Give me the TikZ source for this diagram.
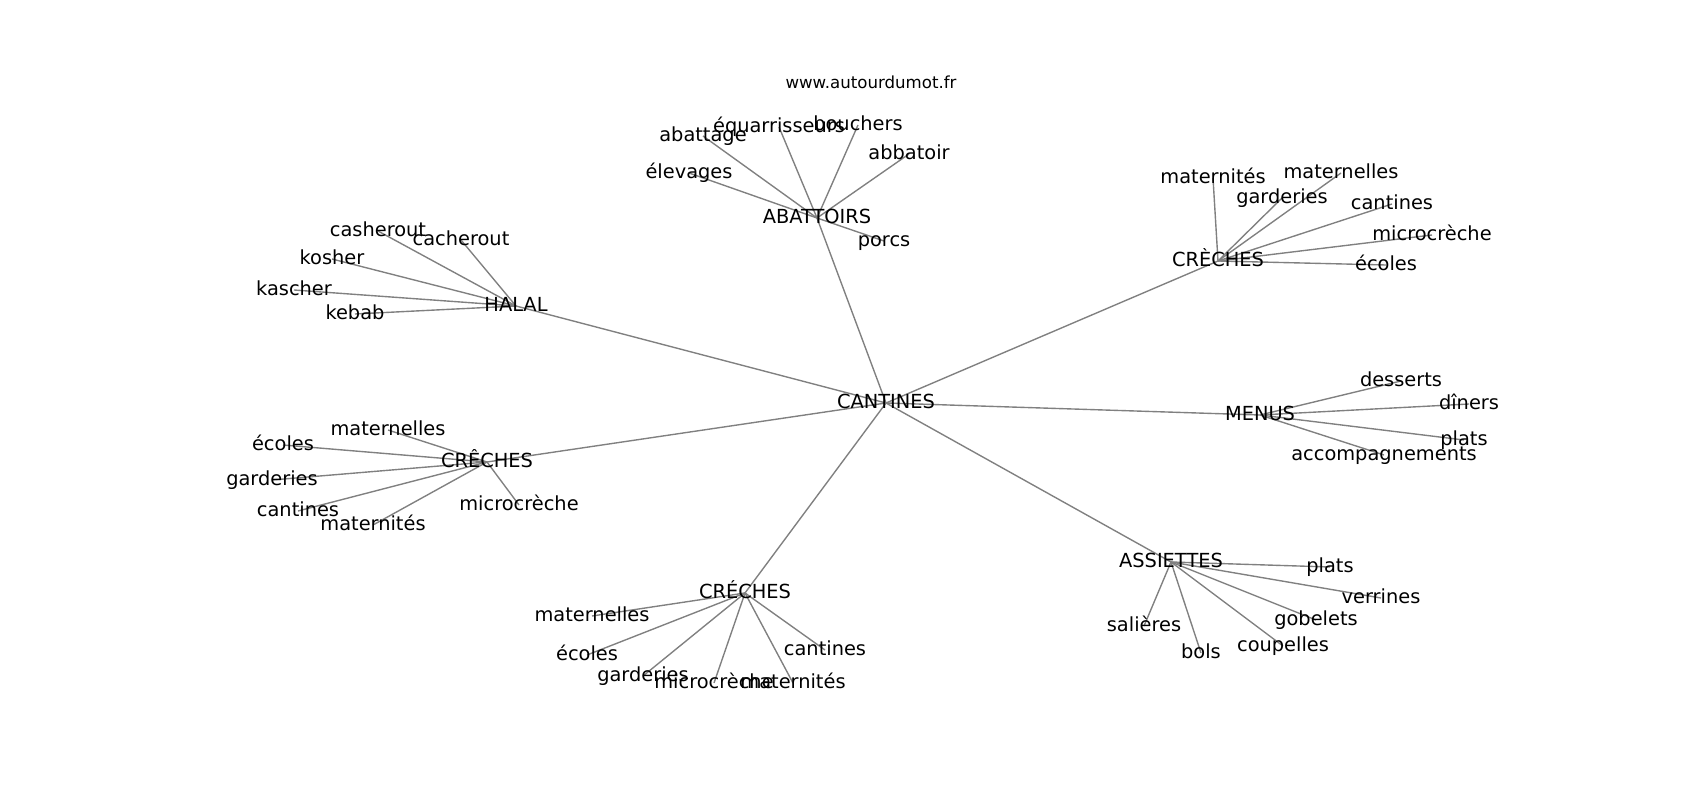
\documentclass[tikz,border=0pt]{standalone}
\usepackage{fontspec}
\setmainfont{DejaVu Sans}
\usetikzlibrary{backgrounds}

\begin{document}
\begin{tikzpicture}[x=0.01in, y=-0.01in,
  every node/.style = {inner sep=0pt, outer sep=0pt,
    text height=0.86em, text depth=0pt,
    font=\fontsize{14}{16}\selectfont},
  link/.style = {draw=black!50, line width=1pt}
  ]
  \useasboundingbox (0,0) rectangle (1700,800);
  \node[anchor=base, text height=, text depth=, font=\fontsize{12}{14}\selectfont] (site) at (871,88.3) {www.autourdumot.fr};
  % centre
  \node (cantines) at (886,403) {CANTINES};
  % abattoirs
  \node (abattoirs) at (817,218) {ABATTOIRS};
  \node (elevages) at (689,173) {élevages};
  \node (abattage) at (703,136) {abattage};
  \node (equarr) at (779,127) {équarrisseurs};
  \node (bouchers) at (858,125) {bouchers};
  \node (abbatoir) at (909,154) {abbatoir};
  \node (porcs) at (884,241) {porcs};
  % halal
  \node (halal) at (516,306) {HALAL};
  \node (casherout) at (378,231) {casherout};
  \node (cacherout) at (461,240) {cacherout};
  \node (kosher) at (332,259) {kosher};
  \node (kascher) at (294,290) {kascher};
  \node (kebab) at (355,314) {kebab};
  % creches, en haut
  \node (crechesA) at (1218,261) {CRÈCHES};
  \node (matA) at (1213,178) {maternités};
  \node (mlA) at (1341,173) {maternelles};
  \node (garA) at (1282,198) {garderies};
  \node (canA) at (1392,204) {cantines};
  \node (micA) at (1432,235) {microcrèche};
  \node (ecoA) at (1386,265) {écoles};
  % menus
  \node (menus) at (1260,415) {MENUS};
  \node (desserts) at (1401,381) {desserts};
  \node (diners) at (1469,404) {dîners};
  \node (platsM) at (1464,440) {plats};
  \node (accomp) at (1384,455) {accompagnements};
  % creches, a gauche
  \node (crechesB) at (487,462) {CRÊCHES};
  \node (mlB) at (388,430) {maternelles};
  \node (ecoB) at (283,445) {écoles};
  \node (garB) at (272,480) {garderies};
  \node (micB) at (519,505) {microcrèche};
  \node (canB) at (298,511) {cantines};
  \node (matB) at (373,525) {maternités};
  % creches, en bas
  \node (crechesC) at (745,593) {CRÉCHES};
  \node (mlC) at (592,616) {maternelles};
  \node (ecoC) at (587,655) {écoles};
  \node (canC) at (825,650) {cantines};
  \node (garC) at (643,676) {garderies};
  \node (micC) at (714,683) {microcrèche};
  \node (matC) at (793,683) {maternités};
  % assiettes
  \node (assiettes) at (1171,562) {ASSIETTES};
  \node (platsA) at (1330,567) {plats};
  \node (verrines) at (1381,598) {verrines};
  \node (gobelets) at (1316,620) {gobelets};
  \node (salieres) at (1144,626) {salières};
  \node (coupelles) at (1283,646) {coupelles};
  \node (bols) at (1201,653) {bols};

  \begin{scope}[on background layer]
    \foreach \hub in {halal,abattoirs,crechesA,menus,assiettes,crechesC,crechesB}
      \draw[link] (cantines.center) -- (\hub.center);
    \foreach \leaf in {elevages,abattage,equarr,bouchers,abbatoir,porcs}
      \draw[link] (abattoirs.center) -- (\leaf.center);
    \foreach \leaf in {casherout,cacherout,kosher,kascher,kebab}
      \draw[link] (halal.center) -- (\leaf.center);
    \foreach \leaf in {matA,mlA,garA,canA,micA,ecoA}
      \draw[link] (crechesA.center) -- (\leaf.center);
    \foreach \leaf in {desserts,diners,platsM,accomp}
      \draw[link] (menus.center) -- (\leaf.center);
    \foreach \leaf in {mlB,ecoB,garB,micB,canB,matB}
      \draw[link] (crechesB.center) -- (\leaf.center);
    \foreach \leaf in {mlC,ecoC,canC,garC,micC,matC}
      \draw[link] (crechesC.center) -- (\leaf.center);
    \foreach \leaf in {platsA,verrines,gobelets,salieres,coupelles,bols}
      \draw[link] (assiettes.center) -- (\leaf.center);
  \end{scope}
\end{tikzpicture}
\end{document}
